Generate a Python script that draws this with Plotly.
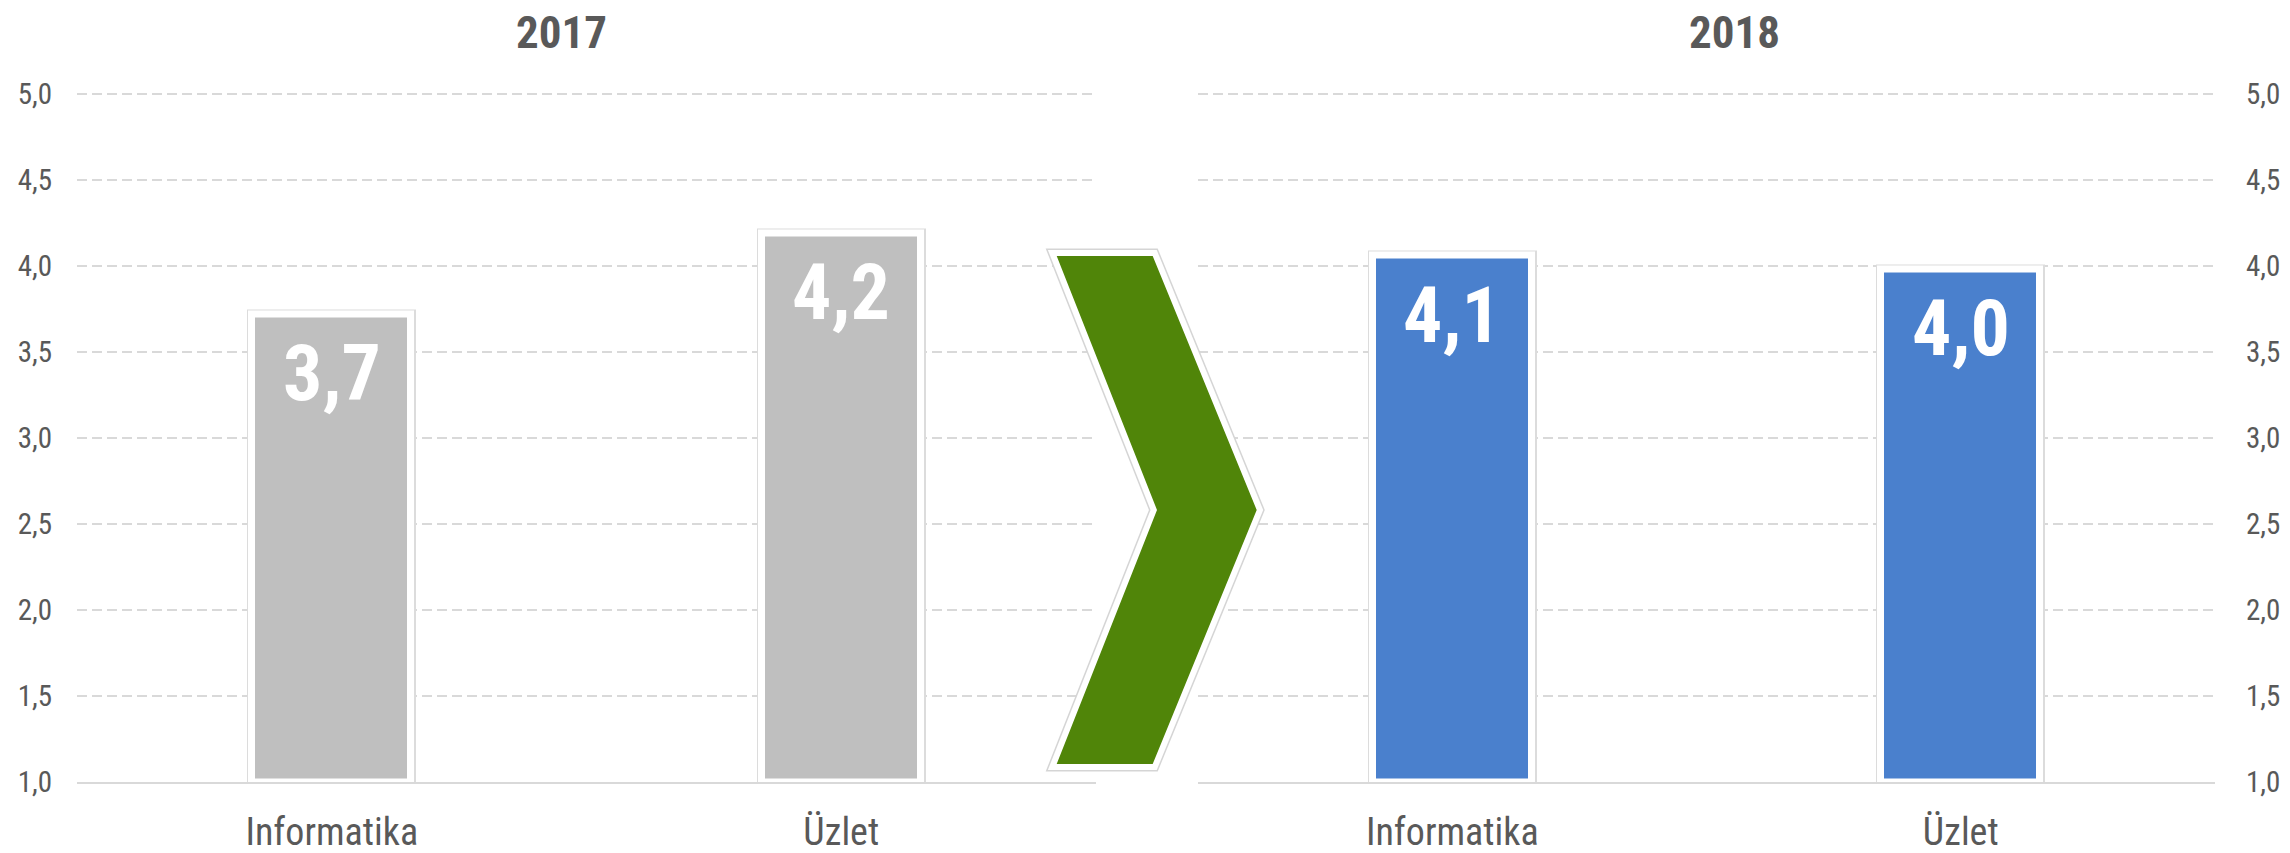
import plotly.graph_objects as go

# ---------------- data ----------------
categories = ["Informatika", "Üzlet"]
years = ["2017", "2018"]
values_2017 = [3.72, 4.19]
values_2018 = [4.06, 3.98]
y_ticks = [1.0, 1.5, 2.0, 2.5, 3.0, 3.5, 4.0, 4.5, 5.0]

# ---------------- style ----------------
W, H = 2290, 853
NARROW = "Liberation Sans Narrow, Arial Narrow, Roboto Condensed, DejaVu Sans Condensed, sans-serif"
TXT = "#595959"
GRID = "#D9D9D9"
GRAY_BAR = "#BFBFBF"
BLUE_BAR = "#4A80CD"
GREEN = "#508509"
BAR_W = 0.312
BASE = 1.0

def px(x):
    return x / W

def py(y):
    return 1 - y / H

Y_RANGE = [1.0, 5.05]
Y_DOM = [py(782), py(782 - 4.05 * 172)]
X1_DOM = [px(77), px(1096)]
X2_DOM = [px(1198), px(2215)]

fig = go.Figure()

def add_year(vals, color, xa, ya):
    heights = [v - BASE for v in vals]
    # faint shadow ring
    fig.add_trace(go.Bar(x=categories, y=heights, base=BASE, width=BAR_W,
                         marker=dict(color=color, line=dict(color="#DCDCDC", width=10)),
                         xaxis=xa, yaxis=ya, hoverinfo="skip"))
    # main bar with white border
    fig.add_trace(go.Bar(x=categories, y=heights, base=BASE, width=BAR_W,
                         marker=dict(color=color, line=dict(color="white", width=7)),
                         xaxis=xa, yaxis=ya, hoverinfo="skip"))
    for c, v in zip(categories, vals):
        fig.add_annotation(x=c, y=v, xref=xa, yref=ya, text=f"{v:.1f}".replace(".", ","),
                           showarrow=False, yanchor="top", yshift=-12,
                           font=dict(family=NARROW, size=78, color="white", weight="bold"))

add_year(values_2017, GRAY_BAR, "x", "y")
add_year(values_2018, BLUE_BAR, "x2", "y2")

ytick_text = [f"{t:.1f}".replace(".", ",") for t in y_ticks]
yax_common = dict(range=Y_RANGE, domain=Y_DOM, tickvals=y_ticks, ticktext=ytick_text,
                  showgrid=True, gridcolor=GRID, gridwidth=1.5, griddash="10px,5px",
                  zeroline=False, showline=False, ticks="", automargin=False,
                  tickfont=dict(family=NARROW, size=29, color=TXT), fixedrange=True)
xax_common = dict(type="category", range=[-0.5, 1.5], showgrid=False, zeroline=False,
                  showline=True, linecolor=GRID, linewidth=2, ticks="", automargin=False,
                  tickfont=dict(family=NARROW, size=38, color=TXT), ticklabelstandoff=15,
                  fixedrange=True)

fig.update_layout(
    width=W, height=H,
    margin=dict(l=0, r=0, t=0, b=0, autoexpand=False),
    paper_bgcolor="white", plot_bgcolor="rgba(0,0,0,0)",
    barmode="overlay", showlegend=False, bargap=0,
    xaxis=dict(domain=X1_DOM, anchor="y", **xax_common),
    xaxis2=dict(domain=X2_DOM, anchor="y2", **xax_common),
    yaxis=dict(anchor="x", side="left", ticklabelstandoff=24, **yax_common),
    yaxis2=dict(anchor="x2", side="right", ticklabelstandoff=30, **yax_common),
)

# year titles
for yr, cx in zip(years, [561, 1734]):
    fig.add_annotation(x=px(cx), y=py(32.5), xref="paper", yref="paper", text=yr,
                       showarrow=False, xanchor="center", yanchor="middle",
                       font=dict(family=NARROW, size=45, color=TXT, weight="bold"))

# decorative chevron between the two panels
chev = [(1056.7, 256), (1152.7, 256), (1256.7, 510), (1152.7, 764), (1056.7, 764), (1157, 510)]
path = "M " + " L ".join(f"{px(x):.5f},{py(y):.5f}" for x, y in chev) + " Z"
fig.add_shape(type="path", path=path, xref="paper", yref="paper",
              line=dict(color="#D5D5D5", width=15), fillcolor="white", layer="above")
fig.add_shape(type="path", path=path, xref="paper", yref="paper",
              line=dict(color="white", width=12), fillcolor="white", layer="above")
fig.add_shape(type="path", path=path, xref="paper", yref="paper",
              line=dict(width=0), fillcolor=GREEN, layer="above")

fig.write_html("out.html", config={"responsive": False, "displayModeBar": False},
               post_script="document.body.style.margin='0';document.body.style.overflow='hidden';")
